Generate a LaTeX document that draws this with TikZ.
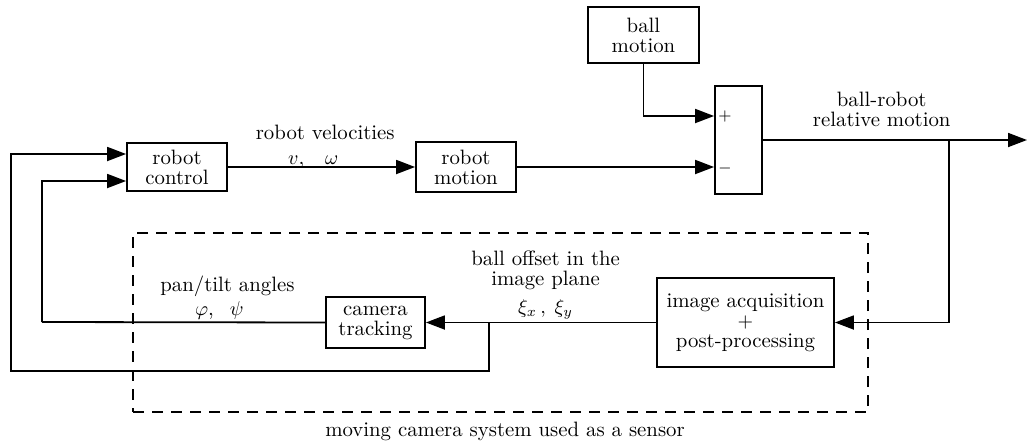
\documentclass[tikz,border=0pt]{standalone}
\usetikzlibrary{arrows.meta}
\begin{document}
\begin{tikzpicture}[x=0.5pt,y=-0.5pt,
  font=\fontsize{10.4}{10}\selectfont,
  blk/.style={draw=black, line width=0.9pt, inner sep=0pt, align=center},
  arr/.style={line width=0.9pt, -{Triangle[length=9.5pt,width=7pt]}},
  ln/.style={line width=0.9pt},
  lbl/.style={align=center, inner sep=1pt},
  dbox/.style={draw=black, line width=0.9pt, dash pattern=on 5.5pt off 4pt, inner sep=0pt}]
\useasboundingbox (0,0) rectangle (1028,445);
% blocks
\node[blk, minimum width=50pt, minimum height=24pt] (rc) at (177,167) {robot\\control};
\node[blk, minimum width=50pt, minimum height=25pt] (rm) at (466,167) {robot\\motion};
\node[blk, minimum width=55.5pt, minimum height=28pt] (bm) at (643.5,35) {ball\\motion};
\node[blk, minimum width=23.5pt, minimum height=54pt] (sum) at (738.5,140) {};
\node[inner sep=0pt, font=\footnotesize] (plus) at (725,116) {$+$};
\node[inner sep=0pt, font=\footnotesize] (minus) at (725,168) {$-$};
\node[dbox, minimum width=367.5pt, minimum height=89.5pt] (sys) at (500.5,322.5) {};
\node[blk, minimum width=88.5pt, minimum height=44.5pt] (ia) at (745.5,322.5) {image acquisition\\$+$\\post-processing};
\node[blk, minimum width=49.5pt, minimum height=25.5pt] (ct) at (375.5,322.5) {camera\\tracking};
\node[lbl] (syslbl) at (505,431) {moving camera system used as a sensor};
% coordinates
\coordinate (out) at (1027,140);
\coordinate (br1) at (949,140);
\coordinate (br2) at (489,322);
\coordinate (b2d) at (489,371);
\coordinate (l1) at (11,371);
\coordinate (l2) at (42,322);
% connectors
\draw[arr] (rc.east) -- node[lbl, above=-2pt, pos=0.52] {robot velocities\\[2.5pt]$v$,\quad$\omega$\hspace*{12pt}} (rm.west);
\draw[arr] (rm.east) -- (rm.east -| sum.west);
\draw[arr] (bm.south) |- ([yshift=12pt]sum.west);
\draw[arr] (sum.east) -- node[lbl, above=5pt, pos=0.45] {ball-robot\\relative motion} (out);
\draw[arr] (br1) |- (ia.east);
\draw[arr] (ia.west) -- node[lbl, above, pos=0.48] {ball offset in the\\image plane\\[4pt]$\xi_x\,,\;\xi_y$} (ct.east);
\draw[ln] (ct.west) -- node[lbl, above, pos=0.345] {pan/tilt angles\\[2pt]$\varphi$,\hspace{8pt}$\psi$\hspace*{8pt}} (l2);
\draw[arr] (l2) |- ([yshift=-7pt]rc.west);
\draw[arr] (br2) -- (b2d) -- (l1) |- ([yshift=6.5pt]rc.west);
\end{tikzpicture}
\end{document}
